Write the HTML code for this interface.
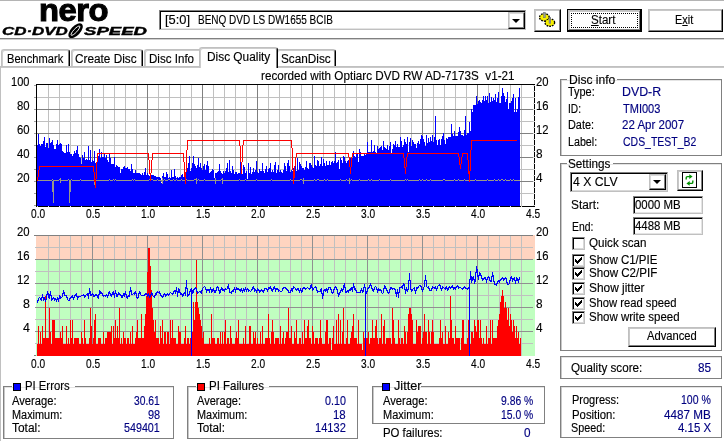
<!DOCTYPE html>
<html lang="en"><head><meta charset="utf-8"><title>Nero CD-DVD Speed</title>
<style>
html,body{margin:0;padding:0;background:#fff}
body{width:724px;height:441px;position:relative;overflow:hidden;font-family:"Liberation Sans",sans-serif;font-size:12px;color:#000}
.t{position:absolute;white-space:nowrap;transform-origin:0 0;z-index:5;-webkit-text-stroke:0.15px currentColor}
.v{color:#000080}
.charts{position:absolute;left:0;top:0}
.grp{position:absolute;border:1px solid #808080;box-shadow:inset 1px 0 0 #c8c8c8,inset 0 1px 0 #e4e4e4}
.lgbg{position:absolute;height:1px;background:#fff}
.sq{position:absolute;width:6px;height:6px;border:1px solid #000}
.hl{position:absolute;height:1px;background:#808080;left:0;right:0}
.sunk{position:absolute;box-sizing:border-box;background:#fff;border:1px solid;border-color:#808080 #c0c0c0 #c0c0c0 #808080;box-shadow:inset 1px 1px 0 #000,inset -1px -1px 0 #e4e4e4}
.s2{box-shadow:inset 1px 1px 0 #000,inset -1px -1px 0 #d8d8d8}
.s2 .dd{margin:1px 1px 0 0}
.dd{position:absolute;box-sizing:border-box;background:#fff;border:1px solid;border-color:#c0c0c0 #000 #000 #c0c0c0;box-shadow:inset -1px -1px 0 #808080,inset 1px 1px 0 #d8d8d8;margin:1px 0 0 0}
.dd i{position:absolute;left:50%;top:50%;margin:-2px 0 0 -5px;border:4px solid transparent;border-top-color:#000;border-bottom:0;width:0;height:0}
.btn{position:absolute;box-sizing:border-box;background:#fff;border:1px solid;border-color:#c0c0c0 #000 #000 #c0c0c0;box-shadow:inset -1px -1px 0 #808080,inset 1px 1px 0 #c8c8c8}
.btn.def{border:1px solid #000;box-shadow:inset -1px -1px 0 #000, inset 1px 1px 0 #c0c0c0, inset -2px -2px 0 #808080, inset 2px 2px 0 #c8c8c8}
.focus{position:absolute;left:3px;top:3px;right:3px;bottom:3px;border:1px dotted #000}
.rf{position:absolute;left:4px;top:1px;width:13px;height:14px;border:1px solid #000}
.rf svg{display:block}
.cb{position:absolute;box-sizing:border-box;width:13px;height:13px;background:#fff;border:1px solid;border-color:#808080 #c0c0c0 #c0c0c0 #808080;box-shadow:inset 1px 1px 0 #000,inset -1px -1px 0 #d8d8d8}
.cb svg{position:absolute;left:-1px;top:-1px}
.tab{position:absolute;box-sizing:border-box;background:#fff;border:1px solid #c0c0c0;border-bottom:0;border-right:1px solid #000;border-radius:3px 3px 0 0;box-shadow:inset 1px 1px 0 #cccccc,inset -1px 0 0 #808080}
.tab.sel{z-index:2}
.logo1{letter-spacing:-0.5px;-webkit-text-stroke:1.1px #000}
.logo2{-webkit-text-stroke:0.4px #000}
</style></head>
<body>
<div class="hl" style="top:0;background:#b4b4b4"></div>
<svg style="position:absolute;left:67px;top:23px" width="17" height="16" viewBox="0 0 17 16"><g transform="rotate(-47 8.6 7.8)"><ellipse cx="8.6" cy="7.8" rx="9.2" ry="4.8" fill="#000"/><ellipse cx="8.6" cy="7.6" rx="6.2" ry="1.7" fill="none" stroke="#fff" stroke-width="0.9"/></g></svg>
<div class="hl" style="top:38px"></div><div class="hl" style="top:39px;background:#d0d0d0"></div>
<div class="hl" style="top:66px;left:0;background:#c0c0c0"></div><div class="hl" style="top:67px;left:0;background:#c8c8c8"></div>
<div style="position:absolute;left:0;top:66px;width:1px;height:375px;background:#c0c0c0"></div>
<svg class="charts" width="724" height="441" viewBox="0 0 724 441" shape-rendering="crispEdges">
<path d="M48.5,85V206M59.5,85V206M70.5,85V206M81.5,85V206M103.5,85V206M114.5,85V206M125.5,85V206M136.5,85V206M158.5,85V206M169.5,85V206M180.5,85V206M191.5,85V206M213.5,85V206M224.5,85V206M235.5,85V206M246.5,85V206M268.5,85V206M279.5,85V206M290.5,85V206M301.5,85V206M323.5,85V206M334.5,85V206M345.5,85V206M356.5,85V206M378.5,85V206M389.5,85V206M400.5,85V206M411.5,85V206M433.5,85V206M444.5,85V206M455.5,85V206M466.5,85V206M488.5,85V206M499.5,85V206M510.5,85V206M521.5,85V206M35,97.5H534M35,121.5H534M35,145.5H534M35,169.5H534M35,193.5H534" stroke="#c0c0c0" fill="none"/>
<path d="M92.5,85V206M147.5,85V206M202.5,85V206M257.5,85V206M312.5,85V206M367.5,85V206M422.5,85V206M477.5,85V206M35,109.5H534M35,133.5H534M35,157.5H534M35,181.5H534" stroke="#808080" fill="none"/>
<path d="M37,206V145H38V134H39V144H40V146H41V144H42H43V141H44V137H45V147H46V143H47H48V148H49V138H50V143H51V142H52V140H53V145H54V149H55H56V144H57V140H58V145H59V144H60V143H61V144H62V151H63V152H64V153H65H66V145H67V152H68V144H69V152H70V154H71H72V156H73V154H74V151H75V153H76V150H77V146H78V154H79V157H80V158H81V164H82V155H83V158H84V152H85V160H86V159H87V160H88V146H89V160H90V150H91V162H92V160H93V161H94V151H95V163H96V173H97V156H98H99V149H100V158H101V152H102V157H103H104V154H105V158H106V155H107V160H108V162H109V153H110V158H111V164H112H113H114V157H115V167H116V165H117V166H118V167H119H120V173H121V169H122H123V167H124V166H125V168H126H127V167H128V169H129H130V171H131V164H132V169H133V173H134H135V170H136V173H137H138H139H140V174H141V175H142V173H143V175H144V172H145V168H146V175H147V173H148V175H149V176H150V173H151V175H152H153H154V176H155H156V177H157H158H159H160V178H161V183H162V176H163V173H164V177H165H166V172H167V174H168V178H169V177H170V178H171V170H172V177H173H174V169H175V176H176V178H177V177H178V178H179V177H180H181V175H182V174H183V177H184H185H186V155H187V168H188V163H189V156H190V171H191V168H192V163H193V156H194V164H195V166H196V168H197V165H198V158H199V167H200V163H201V168H202V170H203V166H204V164H205V170H206V165H207V161H208V166H209V173H210V172H211V171H212V169H213V170H214V178H215V173H216H217V172H218V171H219V164H220V171H221V173H222V174H223V171H224V173H225V171H226V168H227V163H228V172H229V160H230V171H231V173H232V166H233V170H234V174H235V172H236H237V174H238V173H239H240V161H241V173H242V174H243V165H244V167H245V173H246V171H247V179H248V163H249V173H250V167H251V174H252V172H253V168H254V172H255V170H256V161H257V172H258V173H259V169H260V171H261H262V163H263V171H264V173H265V169H266V166H267V172H268V169H269V168H270V163H271V172H272V170H273V172H274V165H275V162H276V173H277V170H278V165H279V172H280V170H281V172H282V173H283V170H284V163H285V166H286V171H287V163H288V160H289V166H290V172H291V170H292V171H293V168H294V177H295V160H296V171H297V158H298V170H299V162H300V164H301V166H302V168H303H304V170H305V167H306V161H307V168H308V169H309V163H310H311V165H312V167H313V168H314V156H315V165H316V166H317V160H318V161H319V166H320V164H321V157H322V166H323V159H324V163H325V166H326V161H327V165H328H329V161H330V165H331V162H332V161H333V163H334V161H335V152H336V163H337V162H338V160H339V169H340V158H341V160H342V163H343V156H344V157H345V161H346V163H347V161H348V160H349V162H350V158H351H352H353V151H354V156H355V157H356V154H357V153H358V162H359V149H360V152H361V156H362H363H364V154H365V155H366V153H367V142H368V152H369H370H371V140H372V152H373V151H374V145H375V152H376V153H377V146H378V149H379V148H380V147H381V146H382V150H383V141H384V147H385V148H386V149H387V145H388V150H389V146H390V142H391V153H392V149H393V144H394V145H395V141H396V147H397V144H398V147H399H400V137H401V141H402V147H403V145H404V139H405V142H406V144H407V137H408V152H409V142H410V138H411V146H412V140H413V142H414V144H415H416V148H417V143H418V141H419V144H420V139H421V135H422V136H423V139H424V142H425V146H426V135H427V143H428V138H429V142H430V137H431V141H432V135H433V142H434V137H435V116H436V140H437V145H438V140H439V139H440V145H441V139H442V136H443V133H444V140H445V144H446V138H447V139H448V137H449H450H451V124H452V134H453V136H454V131H455V136H456H457H458V132H459V127H460V131H461V135H462H463V136H464V130H465V116H466V135H467V133H468H469V122H470V131H471V109H472V112H473V105H474H475H476V96H477V104H478V101H479V100H480V102H481V103H482V100H483V96H484V101H485V96H486V100H487V96H488V103H489V93H490V102H491V97H492V101H493V98H494V100H495V94H496V102H497V98H498V92H499V103H500H501V96H502V88H503V93H504V96H505V102H506V99H507V92H508V109H509V103H510H511V101H512V98H513V94H514V112H515V98H516V112H517V109H518V97H519V88H520V206Z" fill="#0000ff"/>
<path d="M37.5,180.5L38.5,180.5L39.5,180.5L40.5,180.5L41.5,180.5L42.5,180.5L43.5,180.5L44.5,180.5L45.5,180.5L46.5,180.5L47.5,180.5L48.5,180.5L49.5,180.5L50.5,180.5L51.5,180.5L52.5,179.5L53.5,180.5L54.5,180.5L55.5,180.5L56.5,180.5L57.5,180.5L58.5,180.5L59.5,179.5L60.5,180.5L61.5,180.5L62.5,180.5L63.5,180.5L64.5,180.5L65.5,180.5L66.5,180.5L67.5,180.5L68.5,179.5L69.5,180.5L70.5,180.5L71.5,179.5L72.5,180.5L73.5,180.5L74.5,180.5L75.5,180.5L76.5,180.5L77.5,180.5L78.5,180.5L79.5,180.5L80.5,179.5L81.5,180.5L82.5,180.5L83.5,180.5L84.5,180.5L85.5,180.5L86.5,180.5L87.5,180.5L88.5,180.5L89.5,180.5L90.5,180.5L91.5,180.5L92.5,180.5L93.5,180.5L94.5,180.5L95.5,180.5L96.5,180.5L97.5,180.5L98.5,180.5L99.5,180.5L100.5,180.5L101.5,180.5L102.5,180.5L103.5,180.5L104.5,180.5L105.5,180.5L106.5,180.5L107.5,180.5L108.5,180.5L109.5,179.5L110.5,180.5L111.5,180.5L112.5,180.5L113.5,179.5L114.5,180.5L115.5,179.5L116.5,180.5L117.5,180.5L118.5,180.5L119.5,180.5L120.5,180.5L121.5,180.5L122.5,180.5L123.5,180.5L124.5,180.5L125.5,180.5L126.5,180.5L127.5,180.5L128.5,180.5L129.5,180.5L130.5,180.5L131.5,180.5L132.5,179.5L133.5,180.5L134.5,179.5L135.5,180.5L136.5,180.5L137.5,180.5L138.5,180.5L139.5,180.5L140.5,180.5L141.5,180.5L142.5,180.5L143.5,180.5L144.5,180.5L145.5,180.5L146.5,180.5L147.5,180.5L148.5,180.5L149.5,179.5L150.5,180.5L151.5,179.5L152.5,179.5L153.5,180.5L154.5,180.5L155.5,180.5L156.5,180.5L157.5,179.5L158.5,180.5L159.5,180.5L160.5,180.5L161.5,180.5L162.5,180.5L163.5,180.5L164.5,179.5L165.5,180.5L166.5,180.5L167.5,180.5L168.5,179.5L169.5,179.5L170.5,180.5L171.5,180.5L172.5,180.5L173.5,179.5L174.5,180.5L175.5,180.5L176.5,179.5L177.5,180.5L178.5,180.5L179.5,180.5L180.5,180.5L181.5,179.5L182.5,180.5L183.5,180.5L184.5,180.5L185.5,180.5L186.5,179.5L187.5,180.5L188.5,180.5L189.5,180.5L190.5,180.5L191.5,180.5L192.5,180.5L193.5,180.5L194.5,179.5L195.5,179.5L196.5,180.5L197.5,180.5L198.5,179.5L199.5,180.5L200.5,180.5L201.5,180.5L202.5,180.5L203.5,180.5L204.5,179.5L205.5,180.5L206.5,180.5L207.5,180.5L208.5,180.5L209.5,180.5L210.5,180.5L211.5,180.5L212.5,180.5L213.5,180.5L214.5,180.5L215.5,180.5L216.5,180.5L217.5,180.5L218.5,180.5L219.5,180.5L220.5,180.5L221.5,179.5L222.5,180.5L223.5,180.5L224.5,180.5L225.5,180.5L226.5,180.5L227.5,180.5L228.5,180.5L229.5,180.5L230.5,180.5L231.5,180.5L232.5,180.5L233.5,180.5L234.5,180.5L235.5,180.5L236.5,180.5L237.5,180.5L238.5,180.5L239.5,179.5L240.5,180.5L241.5,180.5L242.5,180.5L243.5,180.5L244.5,180.5L245.5,179.5L246.5,180.5L247.5,180.5L248.5,180.5L249.5,180.5L250.5,180.5L251.5,180.5L252.5,180.5L253.5,180.5L254.5,180.5L255.5,180.5L256.5,179.5L257.5,180.5L258.5,180.5L259.5,180.5L260.5,180.5L261.5,180.5L262.5,180.5L263.5,180.5L264.5,180.5L265.5,180.5L266.5,180.5L267.5,180.5L268.5,180.5L269.5,180.5L270.5,180.5L271.5,179.5L272.5,180.5L273.5,180.5L274.5,180.5L275.5,180.5L276.5,180.5L277.5,180.5L278.5,180.5L279.5,180.5L280.5,180.5L281.5,180.5L282.5,180.5L283.5,180.5L284.5,180.5L285.5,180.5L286.5,180.5L287.5,180.5L288.5,180.5L289.5,180.5L290.5,179.5L291.5,180.5L292.5,180.5L293.5,179.5L294.5,180.5L295.5,180.5L296.5,180.5L297.5,180.5L298.5,180.5L299.5,180.5L300.5,179.5L301.5,179.5L302.5,180.5L303.5,180.5L304.5,180.5L305.5,180.5L306.5,180.5L307.5,180.5L308.5,180.5L309.5,180.5L310.5,180.5L311.5,180.5L312.5,180.5L313.5,180.5L314.5,179.5L315.5,180.5L316.5,180.5L317.5,179.5L318.5,179.5L319.5,180.5L320.5,180.5L321.5,180.5L322.5,180.5L323.5,180.5L324.5,179.5L325.5,180.5L326.5,180.5L327.5,179.5L328.5,180.5L329.5,180.5L330.5,180.5L331.5,180.5L332.5,180.5L333.5,180.5L334.5,180.5L335.5,180.5L336.5,180.5L337.5,180.5L338.5,180.5L339.5,180.5L340.5,179.5L341.5,180.5L342.5,180.5L343.5,180.5L344.5,180.5L345.5,180.5L346.5,179.5L347.5,180.5L348.5,180.5L349.5,180.5L350.5,180.5L351.5,179.5L352.5,180.5L353.5,180.5L354.5,180.5L355.5,180.5L356.5,180.5L357.5,180.5L358.5,180.5L359.5,179.5L360.5,180.5L361.5,180.5L362.5,180.5L363.5,180.5L364.5,180.5L365.5,180.5L366.5,180.5L367.5,180.5L368.5,179.5L369.5,180.5L370.5,180.5L371.5,179.5L372.5,180.5L373.5,180.5L374.5,180.5L375.5,180.5L376.5,180.5L377.5,180.5L378.5,180.5L379.5,179.5L380.5,180.5L381.5,180.5L382.5,180.5L383.5,180.5L384.5,180.5L385.5,180.5L386.5,180.5L387.5,180.5L388.5,180.5L389.5,180.5L390.5,179.5L391.5,180.5L392.5,180.5L393.5,180.5L394.5,180.5L395.5,180.5L396.5,180.5L397.5,180.5L398.5,180.5L399.5,180.5L400.5,180.5L401.5,180.5L402.5,180.5L403.5,180.5L404.5,180.5L405.5,179.5L406.5,180.5L407.5,179.5L408.5,180.5L409.5,180.5L410.5,180.5L411.5,180.5L412.5,180.5L413.5,180.5L414.5,180.5L415.5,180.5L416.5,180.5L417.5,180.5L418.5,180.5L419.5,179.5L420.5,180.5L421.5,180.5L422.5,179.5L423.5,180.5L424.5,180.5L425.5,180.5L426.5,179.5L427.5,180.5L428.5,180.5L429.5,180.5L430.5,179.5L431.5,180.5L432.5,180.5L433.5,180.5L434.5,180.5L435.5,180.5L436.5,180.5L437.5,180.5L438.5,180.5L439.5,180.5L440.5,180.5L441.5,180.5L442.5,180.5L443.5,179.5L444.5,179.5L445.5,180.5L446.5,180.5L447.5,180.5L448.5,180.5L449.5,180.5L450.5,180.5L451.5,180.5L452.5,180.5L453.5,180.5L454.5,179.5L455.5,180.5L456.5,180.5L457.5,180.5L458.5,179.5L459.5,180.5L460.5,180.5L461.5,180.5L462.5,180.5L463.5,180.5L464.5,179.5L465.5,180.5L466.5,180.5L467.5,180.5L468.5,180.5L469.5,180.5L470.5,180.5L471.5,180.5L472.5,180.5L473.5,180.5L474.5,180.5L475.5,179.5L476.5,180.5L477.5,180.5L478.5,180.5L479.5,180.5L480.5,180.5L481.5,180.5L482.5,180.5L483.5,180.5L484.5,180.5L485.5,180.5L486.5,180.5L487.5,179.5L488.5,180.5L489.5,180.5L490.5,180.5L491.5,180.5L492.5,180.5L493.5,180.5L494.5,179.5L495.5,180.5L496.5,180.5L497.5,180.5L498.5,179.5L499.5,180.5L500.5,180.5L501.5,179.5L502.5,179.5L503.5,180.5L504.5,180.5L505.5,179.5L506.5,180.5L507.5,180.5L508.5,180.5L509.5,180.5L510.5,179.5L511.5,180.5L512.5,180.5L513.5,179.5L514.5,180.5L515.5,180.5L516.5,180.5L517.5,180.5L518.5,180.5L519.5,180.5" stroke="#989888" fill="none"/>
<rect x="53" y="181" width="1" height="22" fill="#989888"/>
<rect x="52" y="181" width="1" height="11" fill="#989888"/>
<rect x="69" y="181" width="1" height="22" fill="#989888"/>
<rect x="70" y="181" width="1" height="11" fill="#989888"/>
<rect x="60" y="178" width="1" height="5" fill="#989888"/>
<rect x="94" y="178" width="1" height="7" fill="#989888"/>
<rect x="162" y="178" width="1" height="6" fill="#989888"/>
<rect x="196" y="178" width="1" height="6" fill="#989888"/>
<rect x="215" y="178" width="1" height="6" fill="#989888"/>
<rect x="222" y="178" width="1" height="6" fill="#989888"/>
<rect x="349" y="178" width="1" height="6" fill="#989888"/>
<rect x="303" y="178" width="1" height="6" fill="#989888"/>
<path d="M37.5,181.5L38.5,173.5L39.5,166.5L93.5,166.5L94.5,176.5L95.5,187.5L96.5,170.5L97.5,153.5L148.5,153.5L149.5,166.5L150.5,180.5L151.5,166.5L152.5,153.5L183.5,153.5L184.5,170.5L185.5,183.5L186.5,160.5L187.5,140.5L239.5,140.5L240.5,150.5L241.5,173.5L242.5,150.5L243.5,140.5L291.5,140.5L292.5,155.5L293.5,183.5L294.5,172.5L295.5,160.5L296.5,153.5L348.5,153.5L349.5,160.5L350.5,173.5L351.5,160.5L352.5,153.5L403.5,153.5L404.5,162.5L405.5,173.5L406.5,160.5L407.5,153.5L458.5,153.5L459.5,160.5L460.5,168.5L461.5,160.5L462.5,153.5L467.5,153.5L468.5,165.5L469.5,181.5L470.5,160.5L471.5,140.5L516.5,140.5" stroke="#ff0000" fill="none" stroke-width="1"/>
<path d="M36,84.5H535M36.5,84V207M36,206.5H535M534.5,84V207" stroke="#000" fill="none"/>
<path d="M34,85.5H36M34,97.5H36M34,109.5H36M34,121.5H36M34,133.5H36M34,145.5H36M34,157.5H36M34,169.5H36M34,181.5H36M34,193.5H36M34,205.5H36" stroke="#a0a0a0" fill="none"/>
<path d="M533,85.5H535M533,91.5H535M533,97.5H535M533,103.5H535M533,109.5H535M533,115.5H535M533,121.5H535M533,127.5H535M533,133.5H535M533,139.5H535M533,145.5H535M533,151.5H535M533,157.5H535M533,163.5H535M533,169.5H535M533,175.5H535M533,181.5H535M533,187.5H535M533,193.5H535M533,199.5H535M533,205.5H535" stroke="#d8d8d8" fill="none"/>
<path d="M37.5,206V207M48.5,206V207M59.5,206V207M70.5,206V207M81.5,206V207M92.5,206V207M103.5,206V207M114.5,206V207M125.5,206V207M136.5,206V207M147.5,206V207M158.5,206V207M169.5,206V207M180.5,206V207M191.5,206V207M202.5,206V207M213.5,206V207M224.5,206V207M235.5,206V207M246.5,206V207M257.5,206V207M268.5,206V207M279.5,206V207M290.5,206V207M301.5,206V207M312.5,206V207M323.5,206V207M334.5,206V207M345.5,206V207M356.5,206V207M367.5,206V207M378.5,206V207M389.5,206V207M400.5,206V207M411.5,206V207M422.5,206V207M433.5,206V207M444.5,206V207M455.5,206V207M466.5,206V207M477.5,206V207M488.5,206V207M499.5,206V207M510.5,206V207M521.5,206V207" stroke="#e8e8d8" fill="none"/>
<rect x="36" y="235" width="499" height="24" fill="#ffd4c0"/>
<rect x="36" y="259" width="499" height="97" fill="#c0ffc0"/>
<path d="M48.5,236V356M59.5,236V356M70.5,236V356M81.5,236V356M103.5,236V356M114.5,236V356M125.5,236V356M136.5,236V356M158.5,236V356M169.5,236V356M180.5,236V356M191.5,236V356M213.5,236V356M224.5,236V356M235.5,236V356M246.5,236V356M268.5,236V356M279.5,236V356M290.5,236V356M301.5,236V356M323.5,236V356M334.5,236V356M345.5,236V356M356.5,236V356M378.5,236V356M389.5,236V356M400.5,236V356M411.5,236V356M433.5,236V356M444.5,236V356M455.5,236V356M466.5,236V356M488.5,236V356M499.5,236V356M510.5,236V356M521.5,236V356M35,247.5H533M35,271.5H533M35,295.5H533M35,319.5H533M35,343.5H533" stroke="#c0c0c0" fill="none"/>
<path d="M92.5,236V356M147.5,236V356M202.5,236V356M257.5,236V356M312.5,236V356M367.5,236V356M422.5,236V356M477.5,236V356M35,259.5H533M35,283.5H533M35,307.5H533M35,331.5H533" stroke="#909090" fill="none"/>
<path d="M34,235.5H533M34,355.5H36" stroke="#808080" fill="none"/>
<path d="M37,356V344H38V326H39V344H40V332H41V344H42V326H43V338H44H45V296H46V338H47H48H49V308H50V332H51V344H52V320H53H54H55V338H56H57H58H59H60V332H61V338H62V326H63V344H64H65H66V326H67V344H68V338H69V344H70V320H71V338H72V320H73V344H74V338H75H76H77H78H79V344H80H81V332H82V338H83V344H84V320H85V338H86V344H87H88H89V338H90V308H91V326H92V344H93V338H94V320H95V314H96V344H97H98V338H99H100H101V344H102H103V332H104V344H105V338H106H107V332H108H109H110H111V326H112V344H113V326H114V338H115V320H116V338H117V326H118V338H119V308H120V344H121V338H122V344H123V332H124V338H125H126V344H127V338H128H129V344H130V332H131V344H132V326H133V344H134H135V338H136V332H137V320H138V338H139H140H141V314H142V338H143H144V326H145V314H146V296H147V272H148V248H149H150V266H151V290H152V308H153V320H154V332H155V320H156V338H157H158H159V344H160V326H161V338H162V320H163V344H164V332H165H166V344H167V332H168H169V344H170V320H171V338H172V320H173V338H174H175H176V344H177H178V326H179V332H180H181V344H182H183H184V338H185V326H186V344H187V338H188H189V344H190V338H191H192V332H193V302H194V320H195V302H196V260H197V302H198V308H199V314H200V320H201V326H202V338H203V332H204V344H205H206H207H208H209V338H210V344H211V314H212V338H213H214H215V344H216H217V338H218H219V344H220V332H221V344H222V332H223V344H224V332H225V320H226V344H227V338H228H229V344H230V326H231V338H232V344H233H234H235V338H236V332H237V338H238V320H239V344H240H241H242H243V338H244V344H245V326H246V344H247H248H249V326H250H251V344H252H253V332H254V338H255V332H256V344H257V338H258V344H259H260V332H261V344H262V326H263V344H264H265V338H266H267H268V314H269V338H270V344H271V332H272V320H273V332H274V344H275V338H276H277H278H279V344H280V326H281V344H282V338H283V332H284V344H285V338H286V332H287H288V308H289V338H290H291V326H292V344H293H294V332H295V338H296V320H297V344H298H299V338H300H301V344H302V332H303V344H304V320H305V338H306H307V326H308V320H309V338H310H311V344H312V326H313V332H314V344H315V338H316H317H318V344H319V338H320V320H321V338H322V344H323H324H325V332H326V320H327H328V344H329V338H330H331V350H332V338H333V326H334V344H335H336V320H337V344H338V314H339V344H340V320H341V344H342V332H343V308H344V344H345H346V338H347V320H348V344H349H350V338H351V332H352V326H353V314H354V338H355H356H357V344H358V320H359V344H360H361H362V350H363V332H364V338H365V332H366V338H367H368V332H369V344H370V338H371H372V320H373V338H374H375V326H376V320H377V338H378V344H379V338H380H381V314H382V344H383V326H384V320H385V344H386V338H387H388H389H390H391V344H392V308H393V320H394V338H395V344H396H397H398V320H399V338H400V344H401V338H402H403V344H404V326H405V332H406V344H407V332H408V314H409V308H410H411V314H412V320H413V344H414H415H416V320H417V332H418V326H419H420H421V344H422V338H423V332H424V314H425V332H426H427V344H428V320H429V332H430V344H431V332H432V320H433V332H434V344H435H436H437H438H439V338H440V320H441V338H442V332H443V344H444H445V326H446V344H447H448V332H449V338H450V296H451V320H452V338H453H454V344H455V326H456V338H457H458H459H460V350H461V338H462V320H463H464V344H465H466H467V338H468V320H469H470V344H471V332H472H473V338H474V320H475V326H476V332H477V320H478H479V338H480V320H481V338H482V344H483V338H484V344H485H486V326H487V344H488V338H489H490V320H491V344H492V320H493V338H494H495H496H497V326H498V320H499V314H500V302H501V296H502V290H503V296H504V308H505V302H506V308H507V320H508V308H509V326H510V314H511V320H512V332H513V320H514V326H515V338H516V326H517V338H518V332H519V344H520V338H521V356Z" fill="#ff0000"/>
<path d="M37.5,300V303M38.5,298V301M38.5,298V299M39.5,297V298M39.5,297V298M40.5,298V299M40.5,298V300M41.5,299V301M41.5,297V301M42.5,294V298M42.5,294V298M43.5,297V301M43.5,298V301M44.5,297V299M44.5,297V300M45.5,299V302M45.5,299V302M46.5,297V300M46.5,294V298M47.5,291V295M47.5,291V294M48.5,293V297M48.5,296V298M49.5,297V299M49.5,294V299M50.5,291V295M50.5,291V296M51.5,295V301M51.5,299V301M52.5,298V300M52.5,298V299M53.5,297V298M53.5,297V299M54.5,298V301M54.5,299V301M55.5,298V300M55.5,298V300M56.5,299V302M56.5,299V302M57.5,297V300M57.5,297V300M58.5,299V302M58.5,298V302M59.5,295V299M59.5,295V297M60.5,296V299M60.5,298V299M61.5,297V298M61.5,297V298M62.5,296V297M62.5,293V297M63.5,290V294M63.5,290V293M64.5,292V296M64.5,295V296M65.5,295V296M65.5,295V296M66.5,295V296M66.5,295V298M67.5,297V300M67.5,299V300M68.5,300V301M68.5,300V301M69.5,300V301M69.5,298V301M70.5,297V299M70.5,297V298M71.5,297V298M71.5,296V298M72.5,295V297M72.5,295V298M73.5,297V300M73.5,297V300M74.5,296V298M74.5,295V297M75.5,294V296M75.5,294V295M76.5,293V294M76.5,293V297M77.5,296V300M77.5,297V300M78.5,296V298M78.5,296V297M79.5,296V297M79.5,296V297M80.5,296V297M80.5,296V297M81.5,295V296M81.5,295V296M82.5,295V296M82.5,295V296M83.5,294V295M83.5,294V296M84.5,295V298M84.5,296V298M85.5,295V297M85.5,295V296M86.5,294V295M86.5,294V295M87.5,293V294M87.5,293V296M88.5,295V299M88.5,293V299M89.5,288V294M89.5,288V292M90.5,291V296M90.5,295V296M91.5,295V296M91.5,294V296M92.5,293V295M92.5,293V295M93.5,294V297M93.5,296V297M94.5,296V297M94.5,295V297M95.5,294V296M95.5,294V295M96.5,294V295M96.5,294V296M97.5,295V298M97.5,297V298M98.5,298V299M98.5,294V299M99.5,290V295M99.5,290V292M100.5,291V294M100.5,293V294M101.5,292V293M101.5,292V294M102.5,293V295M102.5,294V296M103.5,295V297M103.5,296V297M104.5,295V296M104.5,295V296M105.5,296V297M105.5,295V297M106.5,294V296M106.5,294V296M107.5,295V298M107.5,295V298M108.5,293V296M108.5,292V294M109.5,291V293M109.5,291V294M110.5,293V296M110.5,295V296M111.5,296V297M111.5,294V297M112.5,292V295M112.5,292V293M113.5,291V292M113.5,291V295M114.5,294V298M114.5,293V298M115.5,290V294M115.5,290V294M116.5,293V297M116.5,296V297M117.5,296V297M117.5,294V297M118.5,292V295M118.5,292V294M119.5,293V295M119.5,294V295M120.5,294V295M120.5,294V296M121.5,295V298M121.5,297V298M122.5,297V298M122.5,295V298M123.5,293V296M123.5,293V295M124.5,294V297M124.5,293V297M125.5,291V294M125.5,291V295M126.5,294V298M126.5,297V298M127.5,298V299M127.5,296V299M128.5,295V297M128.5,295V296M129.5,296V297M129.5,291V297M130.5,287V292M130.5,287V291M131.5,290V295M131.5,294V295M132.5,294V295M132.5,294V295M133.5,293V294M133.5,293V294M134.5,294V295M134.5,292V295M135.5,291V293M135.5,291V294M136.5,293V297M136.5,296V298M137.5,297V299M137.5,297V299M138.5,296V298M138.5,293V297M139.5,291V294M139.5,291V293M140.5,292V295M140.5,294V295M141.5,295V296M141.5,295V296M142.5,295V296M142.5,295V296M143.5,295V296M143.5,295V296M144.5,295V296M144.5,294V296M145.5,293V295M145.5,293V294M146.5,293V294M146.5,293V295M147.5,294V297M147.5,294V297M148.5,293V295M148.5,293V296M149.5,295V298M149.5,297V298M150.5,296V297M150.5,294V297M151.5,292V295M151.5,292V294M152.5,293V296M152.5,295V296M153.5,296V297M153.5,296V297M154.5,297V298M154.5,295V298M155.5,293V296M155.5,293V294M156.5,294V295M156.5,292V295M157.5,291V293M157.5,291V292M158.5,292V293M158.5,292V293M159.5,291V292M159.5,291V294M160.5,293V296M160.5,295V296M161.5,295V296M161.5,295V297M162.5,296V298M162.5,296V298M163.5,295V297M163.5,294V296M164.5,293V295M164.5,293V295M165.5,294V297M165.5,295V297M166.5,294V296M166.5,294V295M167.5,293V294M167.5,293V295M168.5,294V296M168.5,294V296M169.5,293V295M169.5,293V294M170.5,292V293M170.5,292V293M171.5,293V294M171.5,293V294M172.5,294V295M172.5,293V295M173.5,292V294M173.5,291V293M174.5,290V292M174.5,290V292M175.5,291V294M175.5,290V294M176.5,287V291M176.5,287V292M177.5,291V297M177.5,292V297M178.5,288V293M178.5,288V290M179.5,289V292M179.5,291V293M180.5,292V295M180.5,294V295M181.5,293V294M181.5,293V295M182.5,294V297M182.5,296V297M183.5,295V296M183.5,293V296M184.5,292V294M184.5,292V294M185.5,293V296M185.5,287V296M186.5,280V288M186.5,280V289M187.5,288V297M187.5,296V297M188.5,295V296M188.5,294V296M189.5,293V295M189.5,291V294M190.5,290V292M190.5,289V291M191.5,288V290M191.5,288V291M192.5,290V294M192.5,292V294M193.5,291V293M193.5,289V292M194.5,288V290M194.5,288V289M195.5,287V288M195.5,287V289M196.5,288V290M196.5,289V292M197.5,291V294M197.5,293V294M198.5,292V293M198.5,292V293M199.5,291V292M199.5,291V292M200.5,291V292M200.5,291V293M201.5,292V294M201.5,290V294M202.5,288V291M202.5,288V289M203.5,287V288M203.5,287V288M204.5,286V287M204.5,286V287M205.5,287V288M205.5,287V290M206.5,289V293M206.5,290V293M207.5,289V291M207.5,289V290M208.5,289V290M208.5,289V291M209.5,290V293M209.5,289V293M210.5,287V290M210.5,287V290M211.5,289V293M211.5,291V293M212.5,290V292M212.5,289V291M213.5,288V290M213.5,288V291M214.5,290V293M214.5,292V293M215.5,292V293M215.5,290V293M216.5,288V291M216.5,287V289M217.5,286V288M217.5,286V288M218.5,287V289M218.5,288V291M219.5,290V294M219.5,292V294M220.5,291V293M220.5,289V292M221.5,287V290M221.5,287V289M222.5,288V291M222.5,290V291M223.5,289V290M223.5,289V291M224.5,290V292M224.5,289V292M225.5,288V290M225.5,288V289M226.5,289V290M226.5,289V290M227.5,288V289M227.5,286V289M228.5,284V287M228.5,284V289M229.5,288V293M229.5,292V293M230.5,292V293M230.5,292V293M231.5,293V294M231.5,291V294M232.5,290V292M232.5,290V291M233.5,291V292M233.5,289V292M234.5,287V290M234.5,287V290M235.5,289V293M235.5,289V293M236.5,287V290M236.5,287V289M237.5,288V290M237.5,289V290M238.5,288V289M238.5,288V290M239.5,289V291M239.5,290V291M240.5,291V292M240.5,289V292M241.5,288V290M241.5,288V291M242.5,290V293M242.5,290V293M243.5,288V291M243.5,288V290M244.5,289V292M244.5,289V292M245.5,287V290M245.5,287V290M246.5,289V292M246.5,289V292M247.5,288V290M247.5,288V290M248.5,289V292M248.5,291V292M249.5,290V291M249.5,290V291M250.5,291V292M250.5,291V292M251.5,290V291M251.5,289V291M252.5,288V290M252.5,287V289M253.5,286V288M253.5,286V289M254.5,288V292M254.5,290V292M255.5,289V291M255.5,289V291M256.5,290V293M256.5,290V293M257.5,288V291M257.5,288V289M258.5,289V290M258.5,289V291M259.5,290V293M259.5,292V293M260.5,291V292M260.5,290V292M261.5,289V291M261.5,289V290M262.5,290V291M262.5,290V292M263.5,291V293M263.5,290V293M264.5,288V291M264.5,288V289M265.5,288V289M265.5,288V289M266.5,288V289M266.5,288V290M267.5,289V292M267.5,289V292M268.5,287V290M268.5,287V288M269.5,288V289M269.5,287V289M270.5,286V288M270.5,286V289M271.5,288V291M271.5,290V291M272.5,291V292M272.5,289V292M273.5,287V290M273.5,287V288M274.5,286V287M274.5,286V289M275.5,288V292M275.5,289V292M276.5,288V290M276.5,288V289M277.5,288V289M277.5,288V290M278.5,289V292M278.5,291V292M279.5,290V291M279.5,290V291M280.5,291V292M280.5,291V292M281.5,291V292M281.5,291V292M282.5,290V291M282.5,288V291M283.5,287V289M283.5,287V288M284.5,287V288M284.5,287V288M285.5,287V288M285.5,287V289M286.5,288V290M286.5,289V290M287.5,289V290M287.5,289V291M288.5,290V293M288.5,292V293M289.5,292V293M289.5,292V293M290.5,292V293M290.5,290V293M291.5,288V291M291.5,288V290M292.5,289V292M292.5,288V292M293.5,286V289M293.5,286V287M294.5,287V288M294.5,287V288M295.5,288V289M295.5,288V290M296.5,289V291M296.5,289V291M297.5,288V290M297.5,288V289M298.5,288V289M298.5,288V291M299.5,290V293M299.5,290V293M300.5,288V291M300.5,288V291M301.5,290V293M301.5,291V293M302.5,290V292M302.5,288V291M303.5,287V289M303.5,287V288M304.5,287V288M304.5,287V289M305.5,288V290M305.5,289V290M306.5,288V289M306.5,288V289M307.5,287V288M307.5,287V288M308.5,288V289M308.5,288V289M309.5,289V290M309.5,288V290M310.5,287V289M310.5,285V288M311.5,284V286M311.5,284V288M312.5,287V291M312.5,289V291M313.5,288V290M313.5,288V289M314.5,287V288M314.5,287V288M315.5,286V287M315.5,286V288M316.5,287V290M316.5,289V291M317.5,290V293M317.5,292V293M318.5,291V292M318.5,291V292M319.5,291V292M319.5,291V292M320.5,291V292M320.5,289V292M321.5,288V290M321.5,288V294M322.5,293V299M322.5,295V299M323.5,292V296M323.5,290V293M324.5,289V291M324.5,289V291M325.5,290V292M325.5,289V292M326.5,288V290M326.5,288V291M327.5,290V293M327.5,289V293M328.5,287V290M328.5,287V288M329.5,287V288M329.5,287V288M330.5,287V288M330.5,287V290M331.5,289V292M331.5,291V293M332.5,292V294M332.5,293V294M333.5,292V293M333.5,289V293M334.5,287V290M334.5,287V288M335.5,286V287M335.5,286V288M336.5,287V289M336.5,288V290M337.5,289V291M337.5,290V294M338.5,293V297M338.5,294V297M339.5,292V295M339.5,292V293M340.5,292V293M340.5,290V293M341.5,288V291M341.5,288V290M342.5,289V292M342.5,289V292M343.5,288V290M343.5,285V289M344.5,283V286M344.5,283V288M345.5,287V293M345.5,292V293M346.5,292V293M346.5,291V293M347.5,290V292M347.5,290V292M348.5,291V293M348.5,290V293M349.5,289V291M349.5,289V290M350.5,290V291M350.5,288V291M351.5,287V289M351.5,287V290M352.5,289V292M352.5,287V292M353.5,283V288M353.5,283V287M354.5,286V290M354.5,289V290M355.5,288V289M355.5,288V291M356.5,290V293M356.5,292V293M357.5,292V293M357.5,292V293M358.5,292V293M358.5,292V293M359.5,292V293M359.5,292V293M360.5,292V293M360.5,290V293M361.5,288V291M361.5,288V291M362.5,290V293M362.5,292V293M363.5,291V292M363.5,287V292M364.5,284V288M364.5,284V288M365.5,287V292M365.5,291V293M366.5,292V294M366.5,291V294M367.5,290V292M367.5,288V291M368.5,287V289M368.5,287V288M369.5,287V288M369.5,285V288M370.5,283V286M370.5,283V286M371.5,285V288M371.5,287V289M372.5,288V291M372.5,290V291M373.5,291V292M373.5,289V292M374.5,287V290M374.5,287V288M375.5,286V287M375.5,286V287M376.5,287V288M376.5,287V290M377.5,289V293M377.5,290V293M378.5,288V291M378.5,288V290M379.5,289V291M379.5,290V291M380.5,289V290M380.5,289V291M381.5,290V293M381.5,292V293M382.5,293V294M382.5,293V294M383.5,292V293M383.5,288V293M384.5,285V289M384.5,285V287M385.5,286V288M385.5,287V289M386.5,288V290M386.5,289V291M387.5,290V292M387.5,291V293M388.5,292V294M388.5,293V294M389.5,292V293M389.5,289V293M390.5,287V290M390.5,287V288M391.5,287V288M391.5,287V289M392.5,288V290M392.5,289V290M393.5,288V289M393.5,288V289M394.5,288V289M394.5,288V290M395.5,289V291M395.5,290V294M396.5,293V297M396.5,292V297M397.5,289V293M397.5,289V294M398.5,293V298M398.5,292V298M399.5,287V293M399.5,287V288M400.5,287V288M400.5,287V288M401.5,286V287M401.5,286V288M402.5,287V289M402.5,285V289M403.5,283V286M403.5,283V285M404.5,284V287M404.5,286V290M405.5,289V294M405.5,290V294M406.5,287V291M406.5,287V290M407.5,289V292M407.5,289V292M408.5,287V290M408.5,280V288M409.5,273V281M409.5,273V281M410.5,280V288M410.5,287V290M411.5,289V292M411.5,290V292M412.5,289V291M412.5,289V290M413.5,288V289M413.5,288V289M414.5,287V288M414.5,287V291M415.5,290V294M415.5,290V294M416.5,287V291M416.5,287V288M417.5,288V289M417.5,287V289M418.5,286V288M418.5,286V287M419.5,285V286M419.5,285V286M420.5,285V286M420.5,285V287M421.5,286V288M421.5,287V290M422.5,289V292M422.5,289V292M423.5,287V290M423.5,287V288M424.5,286V287M424.5,280V287M425.5,275V281M425.5,275V281M426.5,280V287M426.5,286V287M427.5,287V288M427.5,287V288M428.5,286V287M428.5,286V289M429.5,288V291M429.5,290V291M430.5,290V291M430.5,290V291M431.5,290V291M431.5,288V291M432.5,286V289M432.5,286V287M433.5,287V288M433.5,287V288M434.5,288V289M434.5,287V289M435.5,286V288M435.5,286V289M436.5,288V291M436.5,288V291M437.5,286V289M437.5,286V287M438.5,285V286M438.5,285V286M439.5,284V285M439.5,284V286M440.5,285V288M440.5,287V289M441.5,288V291M441.5,288V291M442.5,286V289M442.5,286V287M443.5,287V288M443.5,287V288M444.5,288V289M444.5,288V289M445.5,289V290M445.5,287V290M446.5,286V288M446.5,286V289M447.5,288V291M447.5,289V291M448.5,288V290M448.5,287V289M449.5,286V288M449.5,286V288M450.5,287V289M450.5,287V289M451.5,286V288M451.5,286V287M452.5,285V286M452.5,285V288M453.5,287V290M453.5,288V290M454.5,287V289M454.5,287V289M455.5,288V290M455.5,287V290M456.5,286V288M456.5,286V287M457.5,285V286M457.5,285V287M458.5,286V289M458.5,288V289M459.5,287V288M459.5,287V288M460.5,287V288M460.5,287V288M461.5,288V289M461.5,288V289M462.5,289V290M462.5,288V290M463.5,287V289M463.5,287V288M464.5,286V287M464.5,286V288M465.5,287V289M465.5,288V289M466.5,288V289M466.5,288V289M467.5,289V290M467.5,288V290M468.5,287V289M468.5,287V288M469.5,287V288M469.5,279V288M470.5,271V280M470.5,271V277M471.5,276V283M471.5,280V283M472.5,278V281M472.5,277V279M473.5,276V278M473.5,276V280M474.5,279V284M474.5,281V284M475.5,279V282M475.5,272V280M476.5,266V273M476.5,266V270M477.5,269V274M477.5,273V277M478.5,276V280M478.5,275V280M479.5,272V276M479.5,272V273M480.5,273V274M480.5,273V276M481.5,275V278M481.5,277V279M482.5,278V281M482.5,280V281M483.5,279V280M483.5,278V280M484.5,277V279M484.5,277V278M485.5,277V278M485.5,277V280M486.5,279V283M486.5,279V283M487.5,277V280M487.5,277V278M488.5,276V277M488.5,276V278M489.5,277V280M489.5,279V281M490.5,280V282M490.5,281V282M491.5,281V282M491.5,276V282M492.5,272V277M492.5,272V276M493.5,275V279M493.5,278V282M494.5,281V285M494.5,284V285M495.5,284V285M495.5,284V285M496.5,285V286M496.5,283V286M497.5,281V284M497.5,281V282M498.5,280V281M498.5,280V282M499.5,281V283M499.5,280V283M500.5,279V281M500.5,279V280M501.5,279V280M501.5,278V280M502.5,277V279M502.5,277V279M503.5,278V281M503.5,279V281M504.5,278V280M504.5,278V279M505.5,277V278M505.5,277V279M506.5,278V281M506.5,280V283M507.5,282V285M507.5,284V285M508.5,284V285M508.5,284V285M509.5,283V284M509.5,280V284M510.5,277V281M510.5,277V278M511.5,276V277M511.5,276V279M512.5,278V282M512.5,279V282M513.5,278V280M513.5,278V279M514.5,277V278M514.5,277V281M515.5,280V284M515.5,280V284M516.5,277V281M516.5,277V278M517.5,278V279M517.5,278V281M518.5,280V283M518.5,279V283M519.5,277V280" stroke="#0000ff" fill="none" stroke-width="1"/>
<rect x="191" y="290" width="1" height="66" fill="#0000ff"/>
<rect x="365" y="290" width="1" height="66" fill="#0000ff"/>
<rect x="469" y="285" width="1" height="71" fill="#0000ff"/>
</svg>
<div class="grp" style="left:560px;top:79px;width:160px;height:75px"></div>
<div class="lgbg" style="left:567px;top:79px;width:50px"></div>
<div class="grp" style="left:560px;top:163px;width:160px;height:186px"></div>
<div class="lgbg" style="left:567px;top:163px;width:46px"></div>
<div class="cb" style="left:572px;top:237px"></div>
<div class="cb" style="left:572px;top:254px"><svg width="13" height="13" viewBox="0 0 13 13" shape-rendering="crispEdges"><path d="M3,5v3l2,2l5,-5v-3l-5,5z" fill="#000"/></svg></div>
<div class="cb" style="left:572px;top:267px"><svg width="13" height="13" viewBox="0 0 13 13" shape-rendering="crispEdges"><path d="M3,5v3l2,2l5,-5v-3l-5,5z" fill="#000"/></svg></div>
<div class="cb" style="left:572px;top:282px"><svg width="13" height="13" viewBox="0 0 13 13" shape-rendering="crispEdges"><path d="M3,5v3l2,2l5,-5v-3l-5,5z" fill="#000"/></svg></div>
<div class="cb" style="left:572px;top:297px"><svg width="13" height="13" viewBox="0 0 13 13" shape-rendering="crispEdges"><path d="M3,5v3l2,2l5,-5v-3l-5,5z" fill="#000"/></svg></div>
<div class="cb" style="left:572px;top:311px"><svg width="13" height="13" viewBox="0 0 13 13" shape-rendering="crispEdges"><path d="M3,5v3l2,2l5,-5v-3l-5,5z" fill="#000"/></svg></div>
<div class="btn" style="left:628px;top:327px;width:88px;height:20px"></div>
<div class="grp" style="left:560px;top:356px;width:160px;height:21px"></div>
<div class="grp" style="left:560px;top:386px;width:160px;height:50px"></div>
<div class="sunk s2" style="left:570px;top:172px;width:98px;height:20px"><div class="dd" style="right:0;top:0;width:17px;height:16px"><i></i></div></div>
<div class="btn" style="left:677px;top:170px;width:26px;height:21px"><div class="rf"><svg width="13" height="14" viewBox="0 0 13 14"><g fill="none" stroke="#009000" stroke-width="1.4"><path d="M3.2,6.6V4.8Q3.2,3.6 4.4,3.6H7"/><path d="M9.8,7.4V9.2Q9.8,10.4 8.6,10.4H6"/></g><path d="M6.3,1.2L9.6,3.6L6.3,6zM6.7,8L3.4,10.4L6.7,12.8z" fill="#009000"/></svg></div></div>
<div class="sunk" style="left:633px;top:196px;width:70px;height:18px"></div>
<div class="sunk" style="left:633px;top:217px;width:70px;height:18px"></div>
<div class="grp" style="left:3px;top:386px;width:169px;height:51px"></div>
<div class="lgbg" style="left:12px;top:386px;width:63px"></div>
<div class="sq" style="left:13px;top:383px;background:#0000ff"></div>
<div class="grp" style="left:187px;top:386px;width:169px;height:51px"></div>
<div class="lgbg" style="left:196px;top:386px;width:73px"></div>
<div class="sq" style="left:197px;top:383px;background:#ff0000"></div>
<div class="grp" style="left:372px;top:386px;width:171px;height:36px"></div>
<div class="lgbg" style="left:382px;top:386px;width:39px"></div>
<div class="sq" style="left:382px;top:383px;background:#0000ff"></div>
<div class="sunk" style="left:159px;top:10px;width:367px;height:20px"><div class="dd" style="right:0;top:0;width:17px;height:17px"><i></i></div></div>
<div class="btn" style="left:534px;top:9px;width:27px;height:23px"><svg style="position:absolute;left:3px;top:1px" width="19" height="18" viewBox="0 0 19 18"><g fill="#f0e800" stroke="#000" stroke-width="1.4" stroke-dasharray="1.7 1"><ellipse cx="6.4" cy="6.4" rx="4.8" ry="3.7"/><ellipse cx="11.8" cy="11.6" rx="4.8" ry="3.7"/></g><g fill="#f8f000"><ellipse cx="6.4" cy="6.2" rx="3.8" ry="2.7"/><ellipse cx="11.8" cy="11.4" rx="3.8" ry="2.7"/></g><rect x="5.6" y="1.2" width="1.8" height="5.6" fill="#9098a0" stroke="#606060" stroke-width="0.4"/><rect x="11" y="6.6" width="1.8" height="5.6" fill="#9098a0" stroke="#606060" stroke-width="0.4"/></svg></div>
<div class="btn def" style="left:567px;top:9px;width:75px;height:23px"><div class="focus"></div></div>
<div class="btn" style="left:648px;top:9px;width:75px;height:23px"></div>
<div class="tab" style="left:1px;top:49px;width:69px;height:17px"></div>
<div class="tab" style="left:71px;top:49px;width:72px;height:17px"></div>
<div class="tab" style="left:144px;top:49px;width:58px;height:17px"></div>
<div class="tab sel" style="left:199px;top:47px;width:79px;height:21px"></div>
<div class="tab" style="left:276px;top:49px;width:60px;height:17px"></div>
<div class="t " style="left:16.89px;top:170.84px;line-height:14px;transform:scaleX(0.9447)">20</div>
<div class="t " style="left:16.89px;top:146.84px;line-height:14px;transform:scaleX(0.9447)">40</div>
<div class="t " style="left:16.89px;top:122.84px;line-height:14px;transform:scaleX(0.9447)">60</div>
<div class="t " style="left:16.89px;top:98.84px;line-height:14px;transform:scaleX(0.9447)">80</div>
<div class="t " style="left:11.10px;top:74.84px;line-height:14px;transform:scaleX(0.9181)">100</div>
<div class="t " style="left:536.47px;top:170.84px;line-height:14px;transform:scaleX(0.9808)">4</div>
<div class="t " style="left:536.47px;top:146.84px;line-height:14px;transform:scaleX(0.9808)">8</div>
<div class="t " style="left:536.49px;top:122.84px;line-height:14px;transform:scaleX(0.9365)">12</div>
<div class="t " style="left:536.49px;top:98.84px;line-height:14px;transform:scaleX(0.9365)">16</div>
<div class="t " style="left:536.49px;top:74.84px;line-height:14px;transform:scaleX(0.9365)">20</div>
<div class="t " style="left:31.44px;top:206.84px;line-height:14px;transform:scaleX(0.8457)">0.0</div>
<div class="t " style="left:31.44px;top:356.84px;line-height:14px;transform:scaleX(0.8457)">0.0</div>
<div class="t " style="left:86.44px;top:206.84px;line-height:14px;transform:scaleX(0.8457)">0.5</div>
<div class="t " style="left:86.44px;top:356.84px;line-height:14px;transform:scaleX(0.8457)">0.5</div>
<div class="t " style="left:141.44px;top:206.84px;line-height:14px;transform:scaleX(0.8457)">1.0</div>
<div class="t " style="left:141.44px;top:356.84px;line-height:14px;transform:scaleX(0.8457)">1.0</div>
<div class="t " style="left:196.44px;top:206.84px;line-height:14px;transform:scaleX(0.8457)">1.5</div>
<div class="t " style="left:196.44px;top:356.84px;line-height:14px;transform:scaleX(0.8457)">1.5</div>
<div class="t " style="left:251.44px;top:206.84px;line-height:14px;transform:scaleX(0.8457)">2.0</div>
<div class="t " style="left:251.44px;top:356.84px;line-height:14px;transform:scaleX(0.8457)">2.0</div>
<div class="t " style="left:306.44px;top:206.84px;line-height:14px;transform:scaleX(0.8457)">2.5</div>
<div class="t " style="left:306.44px;top:356.84px;line-height:14px;transform:scaleX(0.8457)">2.5</div>
<div class="t " style="left:361.44px;top:206.84px;line-height:14px;transform:scaleX(0.8457)">3.0</div>
<div class="t " style="left:361.44px;top:356.84px;line-height:14px;transform:scaleX(0.8457)">3.0</div>
<div class="t " style="left:416.44px;top:206.84px;line-height:14px;transform:scaleX(0.8457)">3.5</div>
<div class="t " style="left:416.44px;top:356.84px;line-height:14px;transform:scaleX(0.8457)">3.5</div>
<div class="t " style="left:471.44px;top:206.84px;line-height:14px;transform:scaleX(0.8457)">4.0</div>
<div class="t " style="left:471.44px;top:356.84px;line-height:14px;transform:scaleX(0.8457)">4.0</div>
<div class="t " style="left:526.44px;top:206.84px;line-height:14px;transform:scaleX(0.8457)">4.5</div>
<div class="t " style="left:526.44px;top:356.84px;line-height:14px;transform:scaleX(0.8457)">4.5</div>
<div class="t " style="left:22.64px;top:320.84px;line-height:14px;transform:scaleX(1.0343)">4</div>
<div class="t " style="left:536.47px;top:320.84px;line-height:14px;transform:scaleX(0.9808)">4</div>
<div class="t " style="left:22.64px;top:296.84px;line-height:14px;transform:scaleX(1.0343)">8</div>
<div class="t " style="left:536.47px;top:296.84px;line-height:14px;transform:scaleX(0.9808)">8</div>
<div class="t " style="left:16.89px;top:272.84px;line-height:14px;transform:scaleX(0.9447)">12</div>
<div class="t " style="left:536.49px;top:272.84px;line-height:14px;transform:scaleX(0.9365)">12</div>
<div class="t " style="left:16.89px;top:248.84px;line-height:14px;transform:scaleX(0.9447)">16</div>
<div class="t " style="left:536.49px;top:248.84px;line-height:14px;transform:scaleX(0.9365)">16</div>
<div class="t " style="left:16.89px;top:224.84px;line-height:14px;transform:scaleX(0.9447)">20</div>
<div class="t " style="left:536.49px;top:224.84px;line-height:14px;transform:scaleX(0.9365)">20</div>
<div class="t " style="left:261.07px;top:68.64px;line-height:14px;transform:scaleX(0.9731)">recorded with Optiarc DVD RW AD-7173S&nbsp; v1-21</div>
<div class="t " style="left:568.66px;top:72.84px;line-height:14px;transform:scaleX(1.0059)">Disc info</div>
<div class="t " style="left:568.26px;top:84.84px;line-height:14px;transform:scaleX(0.9106)">Type:</div>
<div class="t v" style="left:622.44px;top:84.84px;line-height:14px;transform:scaleX(1.0293)">DVD-R</div>
<div class="t " style="left:568.29px;top:101.84px;line-height:14px;transform:scaleX(0.8448)">ID:</div>
<div class="t v" style="left:622.50px;top:101.84px;line-height:14px;transform:scaleX(0.9190)">TMI003</div>
<div class="t " style="left:568.26px;top:117.84px;line-height:14px;transform:scaleX(0.9056)">Date:</div>
<div class="t v" style="left:622.48px;top:117.84px;line-height:14px;transform:scaleX(0.9599)">22 Apr 2007</div>
<div class="t " style="left:568.27px;top:134.84px;line-height:14px;transform:scaleX(0.8902)">Label:</div>
<div class="t v" style="left:622.53px;top:134.84px;line-height:14px;transform:scaleX(0.8728)">CDS_TEST_B2</div>
<div class="t " style="left:568.22px;top:156.84px;line-height:14px;transform:scaleX(0.9780)">Settings</div>
<div class="t " style="left:571.07px;top:197.84px;line-height:14px;transform:scaleX(0.9852)">Start:</div>
<div class="t " style="left:571.93px;top:219.84px;line-height:14px;transform:scaleX(0.8641)">End:</div>
<div class="t " style="left:589.18px;top:235.84px;line-height:14px;transform:scaleX(0.9695)">Quick scan</div>
<div class="t " style="left:589.18px;top:252.84px;line-height:14px;transform:scaleX(0.9574)">Show C1/PIE</div>
<div class="t " style="left:589.18px;top:265.84px;line-height:14px;transform:scaleX(0.9666)">Show C2/PIF</div>
<div class="t " style="left:589.16px;top:280.84px;line-height:14px;transform:scaleX(0.9918)">Show jitter</div>
<div class="t " style="left:589.19px;top:295.84px;line-height:14px;transform:scaleX(0.9369)">Show read speed</div>
<div class="t " style="left:589.18px;top:309.84px;line-height:14px;transform:scaleX(0.9569)">Show write speed</div>
<div class="t " style="left:647.30px;top:328.84px;line-height:14px;transform:scaleX(0.9332)">Advanced</div>
<div class="t " style="left:571.08px;top:360.84px;line-height:14px;transform:scaleX(0.9712)">Quality score:</div>
<div class="t v" style="left:698.07px;top:360.84px;line-height:14px;transform:scaleX(0.9772)">85</div>
<div class="t " style="left:571.90px;top:392.84px;line-height:14px;transform:scaleX(0.9169)">Progress:</div>
<div class="t v" style="left:681.23px;top:392.84px;line-height:14px;transform:scaleX(0.8771)">100 %</div>
<div class="t " style="left:571.89px;top:407.84px;line-height:14px;transform:scaleX(0.9455)">Position:</div>
<div class="t v" style="left:664.37px;top:407.84px;line-height:14px;transform:scaleX(0.9734)">4487 MB</div>
<div class="t " style="left:571.12px;top:420.84px;line-height:14px;transform:scaleX(0.8981)">Speed:</div>
<div class="t v" style="left:678.09px;top:420.84px;line-height:14px;transform:scaleX(0.9517)">4.15 X</div>
<div class="t " style="left:572.75px;top:174.84px;line-height:14px;transform:scaleX(1.0180)">4 X CLV</div>
<div class="t " style="left:635.29px;top:197.84px;line-height:14px;transform:scaleX(0.9521)">0000 MB</div>
<div class="t " style="left:635.29px;top:219.14px;line-height:14px;transform:scaleX(0.9521)">4488 MB</div>
<div class="t " style="left:25.09px;top:379.24px;line-height:14px;transform:scaleX(0.9424)">PI Errors</div>
<div class="t " style="left:11.90px;top:393.84px;line-height:14px;transform:scaleX(0.9330)">Average:</div>
<div class="t v" style="left:133.84px;top:393.84px;line-height:14px;transform:scaleX(0.8601)">30.61</div>
<div class="t " style="left:11.91px;top:407.84px;line-height:14px;transform:scaleX(0.9085)">Maximum:</div>
<div class="t v" style="left:147.51px;top:407.84px;line-height:14px;transform:scaleX(0.9121)">98</div>
<div class="t " style="left:11.86px;top:420.84px;line-height:14px;transform:scaleX(0.9925)">Total:</div>
<div class="t v" style="left:123.92px;top:420.84px;line-height:14px;transform:scaleX(0.8931)">549401</div>
<div class="t " style="left:208.88px;top:379.24px;line-height:14px;transform:scaleX(0.9577)">PI Failures</div>
<div class="t " style="left:197.40px;top:393.84px;line-height:14px;transform:scaleX(0.9201)">Average:</div>
<div class="t v" style="left:325.02px;top:393.84px;line-height:14px;transform:scaleX(0.8932)">0.10</div>
<div class="t " style="left:197.41px;top:407.84px;line-height:14px;transform:scaleX(0.9085)">Maximum:</div>
<div class="t v" style="left:333.19px;top:407.84px;line-height:14px;transform:scaleX(0.9528)">18</div>
<div class="t " style="left:197.37px;top:420.84px;line-height:14px;transform:scaleX(0.9744)">Total:</div>
<div class="t v" style="left:315.10px;top:420.84px;line-height:14px;transform:scaleX(0.9227)">14132</div>
<div class="t " style="left:393.93px;top:379.24px;line-height:14px;transform:scaleX(1.0547)">Jitter</div>
<div class="t " style="left:383.00px;top:393.84px;line-height:14px;transform:scaleX(0.9330)">Average:</div>
<div class="t v" style="left:500.93px;top:393.84px;line-height:14px;transform:scaleX(0.8627)">9.86 %</div>
<div class="t " style="left:383.01px;top:407.84px;line-height:14px;transform:scaleX(0.9159)">Maximum:</div>
<div class="t v" style="left:500.93px;top:407.84px;line-height:14px;transform:scaleX(0.8627)">15.0 %</div>
<div class="t " style="left:382.99px;top:425.84px;line-height:14px;transform:scaleX(0.9493)">PO failures:</div>
<div class="t v" style="left:524.37px;top:425.84px;line-height:14px;transform:scaleX(0.9808)">0</div>
<div class="t " style="left:164.82px;top:13.34px;line-height:14px;transform:scaleX(1.0727)">[5:0]</div>
<div class="t " style="left:198.05px;top:13.34px;line-height:14px;transform:scaleX(0.8324)">BENQ DVD LS DW1655 BCIB</div>
<div class="t " style="left:591.28px;top:13.14px;line-height:14px;transform:scaleX(0.9603)"><u>S</u>tart</div>
<div class="t " style="left:675.31px;top:13.14px;line-height:14px;transform:scaleX(0.9083)">E<u>x</u>it</div>
<div class="t z3" style="left:7.10px;top:51.84px;line-height:14px;transform:scaleX(0.9258)">Benchmark</div>
<div class="t z3" style="left:74.97px;top:51.84px;line-height:14px;transform:scaleX(0.9820)">Create Disc</div>
<div class="t z3" style="left:149.48px;top:51.84px;line-height:14px;transform:scaleX(0.9648)">Disc Info</div>
<div class="t z3" style="left:206.67px;top:49.84px;line-height:14px;transform:scaleX(0.9883)">Disc Quality</div>
<div class="t z3" style="left:280.87px;top:51.84px;line-height:14px;transform:scaleX(0.9797)">ScanDisc</div>
<div class="t logo1" style="left:38.83px;top:-6.89px;line-height:34.0px;font-weight:bold;font-size:32px;transform:scaleX(1.0231)">nero</div>
<div class="t logo2" style="left:1.94px;top:25.27px;line-height:13.5px;font-weight:bold;font-style:italic;font-size:11.5px;transform:scaleX(1.4714)">CD·DVD</div>
<div class="t logo2" style="left:84.16px;top:25.27px;line-height:13.5px;font-weight:bold;font-style:italic;font-size:11.5px;transform:scaleX(1.6146)">SPEED</div>
</body></html>
